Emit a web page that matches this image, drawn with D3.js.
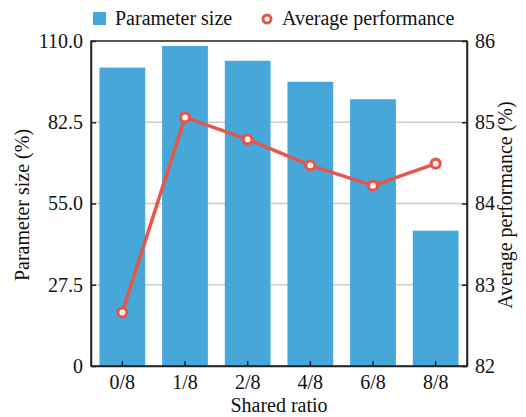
<!DOCTYPE html>
<html>
<head>
<meta charset="utf-8">
<script src="https://cdn.jsdelivr.net/npm/d3@7"></script>
<style>
  html, body { margin: 0; padding: 0; background: #fff; }
  svg text { fill: #111; }
</style>
</head>
<body>
<svg id="chart" width="526" height="417"></svg>
<script>
const categories = ["0/8", "1/8", "2/8", "4/8", "6/8", "8/8"];
const paramSize = [101.0, 108.3, 103.3, 96.2, 90.3, 45.8];
const avgPerf = [82.66, 85.06, 84.79, 84.47, 84.22, 84.49];
const leftTicks = [0, 27.5, 55, 82.5, 110];
const leftTickLabels = ["0", "27.5", "55.0", "82.5", "110.0"];
const rightTicks = [82, 83, 84, 85, 86];

const svg = d3.select("#chart");
const L = 91, R = 467, T = 41, B = 366;
const barColor = "#45a8d8", lineColor = "#e4574a";
const fs = 20;
const serif = "Liberation Serif, Times New Roman, Times, DejaVu Serif, serif";
svg.attr("font-family", serif).style("font-family", serif);

const x = d3.scaleBand().domain(categories).range([L, R]).paddingInner(0.27).paddingOuter(0.135);
const yL = d3.scaleLinear().domain([0, 110]).range([B, T]);
const yR = d3.scaleLinear().domain([82, 86]).range([B, T]);

svg.append("g").selectAll("line").data([83, 84, 85]).join("line")
  .attr("x1", L).attr("x2", R)
  .attr("y1", d => yR(d)).attr("y2", d => yR(d))
  .attr("stroke", "#cccccc").attr("stroke-width", 1.5);

svg.append("g").selectAll("rect").data(categories).join("rect")
  .attr("x", d => x(d)).attr("width", x.bandwidth())
  .attr("y", (d, i) => yL(paramSize[i]))
  .attr("height", (d, i) => B - yL(paramSize[i]))
  .attr("fill", barColor);

const line = d3.line().x((d, i) => x(categories[i]) + x.bandwidth() / 2).y(d => yR(d));
svg.append("path").datum(avgPerf).attr("d", line)
  .attr("fill", "none").attr("stroke", lineColor).attr("stroke-width", 3.5)
  .attr("stroke-linejoin", "round");
svg.append("g").selectAll("circle").data(avgPerf).join("circle")
  .attr("cx", (d, i) => x(categories[i]) + x.bandwidth() / 2)
  .attr("cy", d => yR(d))
  .attr("r", 4.5).attr("fill", "#fff")
  .attr("stroke", lineColor).attr("stroke-width", 3.2);

svg.append("rect").attr("x", L).attr("y", T).attr("width", R - L).attr("height", B - T)
  .attr("fill", "none").attr("stroke", "#222").attr("stroke-width", 1.5);

const axL = d3.axisLeft(yL).tickValues(leftTicks).tickFormat((d, i) => leftTickLabels[i])
  .tickSizeInner(-5).tickSizeOuter(0).tickPadding(8);
const gL = svg.append("g").attr("transform", `translate(${L},0)`).call(axL);
const axR = d3.axisRight(yR).tickValues(rightTicks).tickFormat(d3.format("d"))
  .tickSizeInner(-5).tickSizeOuter(0).tickPadding(8);
const gR = svg.append("g").attr("transform", `translate(${R},0)`).call(axR);
const axB = d3.axisBottom(x).tickSizeInner(-5).tickSizeOuter(0).tickPadding(9);
const gB = svg.append("g").attr("transform", `translate(0,${B})`).call(axB);

[gL, gR, gB].forEach(g => {
  g.attr("font-family", serif).attr("font-size", fs);
  g.select(".domain").attr("stroke", "#222").attr("stroke-width", 1.5);
  g.selectAll(".tick line").attr("stroke", "#222").attr("stroke-width", 1.5);
  g.selectAll(".tick text").attr("fill", "#111").style("font-family", serif);
});

svg.append("text").attr("transform", `translate(29,205) rotate(-90)`)
  .attr("text-anchor", "middle").attr("font-size", fs).style("font-family", serif).text("Parameter size (%)");
svg.append("text").attr("transform", `translate(512,205) rotate(-90)`)
  .attr("text-anchor", "middle").attr("font-size", fs).style("font-family", serif).text("Average performance (%)");
svg.append("text").attr("x", (L + R) / 2).attr("y", 412)
  .attr("text-anchor", "middle").attr("font-size", fs).style("font-family", serif).text("Shared ratio");

const lg = svg.append("g");
lg.append("rect").attr("x", 93).attr("y", 12).attr("width", 13).attr("height", 13).attr("fill", barColor);
lg.append("text").attr("x", 115).attr("y", 25).attr("font-size", fs).style("font-family", serif).text("Parameter size");
lg.append("circle").attr("cx", 267).attr("cy", 19).attr("r", 4).attr("fill", "#fff")
  .attr("stroke", lineColor).attr("stroke-width", 3);
lg.append("text").attr("x", 282).attr("y", 25).attr("font-size", fs).style("font-family", serif).text("Average performance");
</script>
</body>
</html>
